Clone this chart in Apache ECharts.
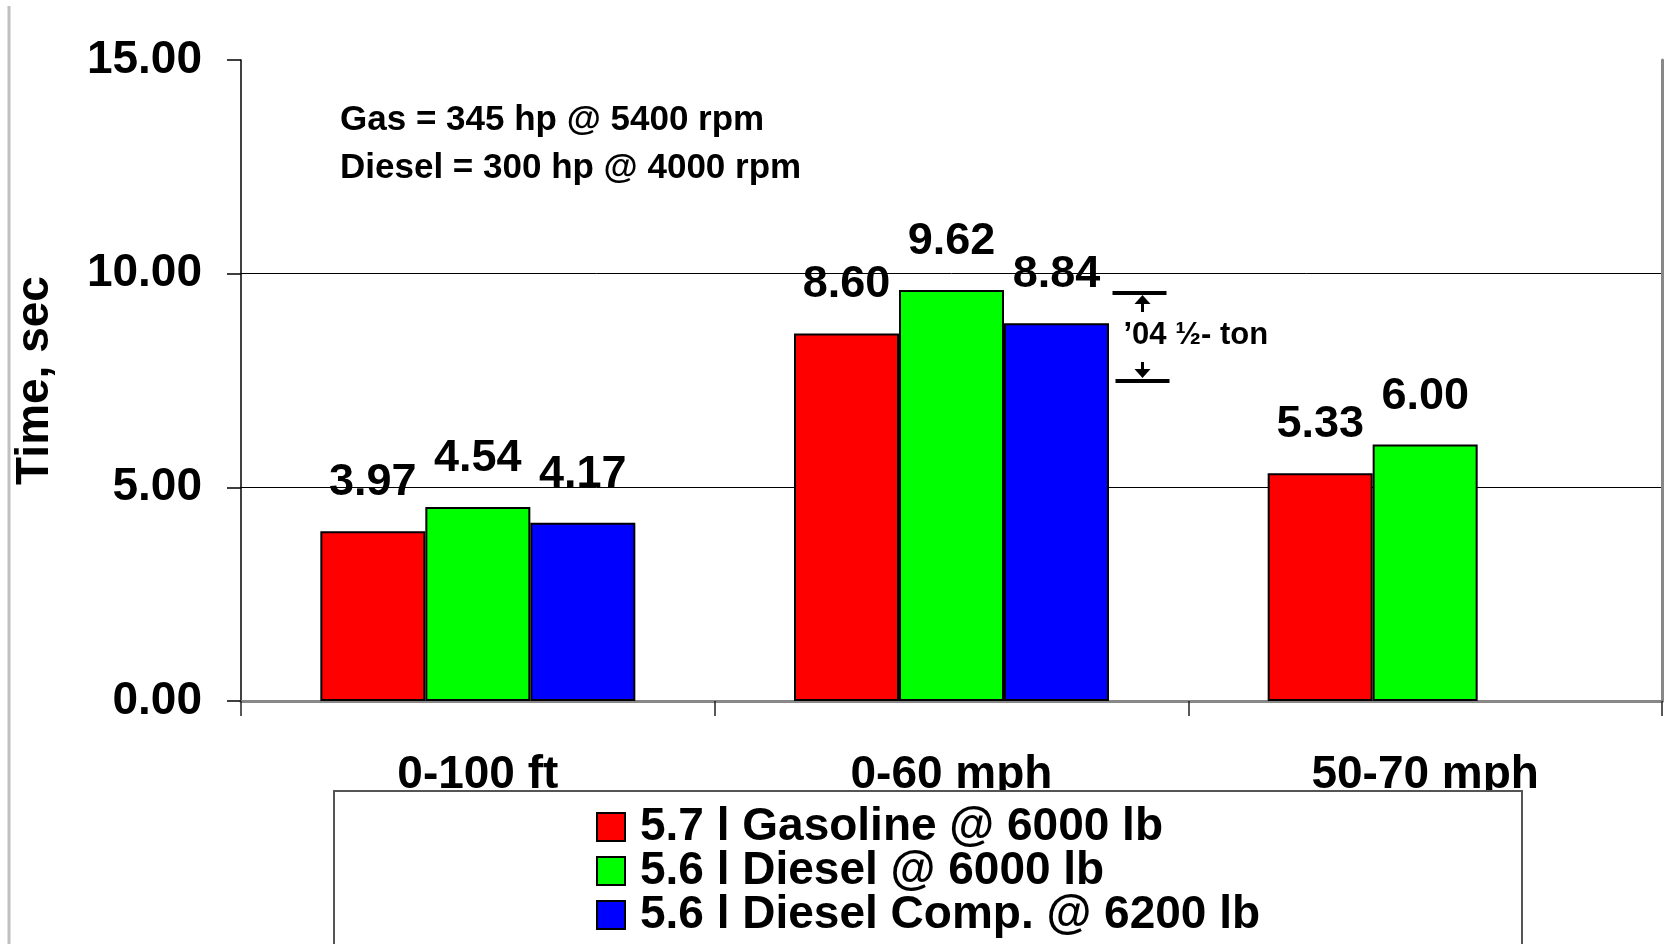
<!DOCTYPE html>
<html>
<head>
<meta charset="utf-8">
<script src="https://cdn.jsdelivr.net/npm/echarts@6.0.0/dist/echarts.min.js"></script>
<style>
  html, body { margin: 0; padding: 0; background: #fff; }
  #chart { width: 1667px; height: 944px; }
</style>
</head>
<body>
<div id="chart"></div>
<script>
// Acceleration times by test and powertrain
const categories = ['0-100 ft', '0-60 mph', '50-70 mph'];
const seriesNames = ['5.7 l Gasoline @ 6000 lb', '5.6 l Diesel @ 6000 lb', '5.6 l Diesel Comp. @ 6200 lb'];
const gasoline = [3.97, 8.60, 5.33];
const diesel = [4.54, 9.62, 6.00];
const dieselComp = [4.17, 8.84, null];
const seriesColors = ['#ff0000', '#00ff00', '#0000ff'];

// Value axis range
const yMin = 0;
const yMax = 15;
const yStep = 5;

// Engine notes and the half-ton bracket
const engineNotes = ['Gas = 345 hp @ 5400 rpm', 'Diesel = 300 hp @ 4000 rpm'];
const bracketLabel = '\u201904 \u00bd- ton';
const bracketRange = [9.54, 7.48];

const FONT = "'Liberation Sans', Arial, sans-serif";

const chart = echarts.init(document.getElementById('chart'), null, { renderer: 'canvas' });

function barSeries(name, data, color) {
  return {
    name: name,
    type: 'bar',
    data: data,
    xAxisIndex: 0,
    yAxisIndex: 0,
    barGap: '0%',
    barCategoryGap: '33.5%',
    itemStyle: { color: color, borderColor: '#000', borderWidth: 2 },
    label: {
      show: true,
      position: 'top',
      distance: 26,
      color: '#000',
      fontFamily: FONT,
      fontWeight: 'bold',
      fontSize: 45,
      formatter: function (p) { return p.value == null ? '' : Number(p.value).toFixed(2); }
    },
    emphasis: { disabled: true },
    animation: false
  };
}

const option = {
  animation: false,
  backgroundColor: '#ffffff',
  grid: {
    left: 241, right: 5, top: 60, bottom: 243,
    containLabel: false,
    outerBoundsMode: 'none'
  },
  legend: {
    data: seriesNames,
    orient: 'vertical',
    left: 596,
    top: 804,
    padding: 0,
    itemGap: -2,
    itemWidth: 28,
    itemHeight: 28,
    icon: 'rect',
    z: 20,
    selectedMode: false,
    textStyle: {
      fontFamily: FONT,
      fontWeight: 'bold',
      fontSize: 46,
      color: '#000',
      lineHeight: 44,
      padding: [0, 0, 0, 10]
    }
  },
  xAxis: [
    {
      type: 'category',
      data: categories,
      position: 'bottom',
      axisLine: { show: true, lineStyle: { color: '#222', width: 2 } },
      axisTick: { show: true, length: 15, lineStyle: { color: '#222', width: 1.5 } },
      axisLabel: {
        show: true,
        margin: 51,
        color: '#000',
        fontFamily: FONT,
        fontWeight: 'bold',
        fontSize: 46
      },
      splitLine: { show: false }
    },
    {
      // top frame edge
      type: 'category',
      data: categories,
      position: 'top',
      axisLine: { show: true, lineStyle: { color: '#888', width: 3 } },
      axisTick: { show: false },
      axisLabel: { show: false },
      splitLine: { show: false }
    }
  ],
  yAxis: [
    {
      type: 'value',
      min: yMin,
      max: yMax,
      interval: yStep,
      position: 'left',
      name: 'Time, sec',
      nameLocation: 'middle',
      nameGap: 183,
      nameRotate: 90,
      nameTextStyle: {
        fontFamily: FONT,
        fontWeight: 'bold',
        fontSize: 46,
        color: '#000'
      },
      axisLine: { show: true, lineStyle: { color: '#000', width: 1.5 } },
      axisTick: { show: true, inside: false, length: 14, lineStyle: { color: '#000', width: 1.5 } },
      axisLabel: {
        margin: 39,
        color: '#000',
        fontFamily: FONT,
        fontWeight: 'bold',
        fontSize: 46,
        formatter: function (v) { return v.toFixed(2); }
      },
      splitLine: { show: true, showMinLine: false, showMaxLine: false, lineStyle: { color: '#000', width: 1 } }
    },
    {
      // right frame edge
      type: 'value',
      min: yMin,
      max: yMax,
      interval: yStep,
      position: 'right',
      axisLine: { show: true, lineStyle: { color: '#888', width: 3 } },
      axisTick: { show: false },
      axisLabel: { show: false },
      splitLine: { show: false }
    }
  ],
  series: [
    barSeries(seriesNames[0], gasoline, seriesColors[0]),
    barSeries(seriesNames[1], diesel, seriesColors[1]),
    barSeries(seriesNames[2], dieselComp, seriesColors[2])
  ]
};

chart.setOption(option);

// Overlay: page rule, engine notes, half-ton bracket, legend box
const midCenter = chart.convertToPixel({ gridIndex: 0 }, [categories[1], 0])[0];
const yTopBar = Math.round(chart.convertToPixel({ gridIndex: 0 }, [categories[1], bracketRange[0]])[1]);
const yBotBar = Math.round(chart.convertToPixel({ gridIndex: 0 }, [categories[1], bracketRange[1]])[1]);
const bx = midCenter + 191;

const textStyleBase = { fill: '#000', fontFamily: FONT, fontWeight: 'bold' };

chart.setOption({
  graphic: [
    {
      type: 'line', z: 1, silent: true,
      shape: { x1: 9, y1: 6, x2: 9, y2: 944 },
      style: { stroke: '#c0c0c0', lineWidth: 3 }
    },
    {
      type: 'text', z: 5, silent: true,
      left: 340, top: 103,
      style: Object.assign({ text: engineNotes[0], fontSize: 35, verticalAlign: 'top' }, textStyleBase)
    },
    {
      type: 'text', z: 5, silent: true,
      left: 340, top: 151,
      style: Object.assign({ text: engineNotes[1], fontSize: 35, verticalAlign: 'top' }, textStyleBase)
    },
    // upper bar and arrow
    {
      type: 'rect', z: 5, silent: true,
      shape: { x: bx - 30, y: yTopBar - 2, width: 54, height: 4 },
      style: { fill: '#000' }
    },
    {
      type: 'polygon', z: 5, silent: true,
      shape: { points: [[bx, yTopBar + 2], [bx - 8, yTopBar + 11], [bx + 8, yTopBar + 11]] },
      style: { fill: '#000' }
    },
    {
      type: 'rect', z: 5, silent: true,
      shape: { x: bx - 1.5, y: yTopBar + 10, width: 3, height: 9 },
      style: { fill: '#000' }
    },
    // lower bar and arrow
    {
      type: 'rect', z: 5, silent: true,
      shape: { x: bx - 27, y: yBotBar - 2, width: 54, height: 4 },
      style: { fill: '#000' }
    },
    {
      type: 'polygon', z: 5, silent: true,
      shape: { points: [[bx, yBotBar - 3], [bx - 8, yBotBar - 12], [bx + 8, yBotBar - 12]] },
      style: { fill: '#000' }
    },
    {
      type: 'rect', z: 5, silent: true,
      shape: { x: bx - 1.5, y: yBotBar - 19, width: 3, height: 8 },
      style: { fill: '#000' }
    },
    {
      type: 'text', z: 5, silent: true,
      left: bx - 19, top: Math.round((yTopBar + yBotBar) / 2) - 17,
      style: Object.assign({ text: bracketLabel, fontSize: 31, verticalAlign: 'top' }, textStyleBase)
    },
    // legend frame drawn over the lower part of the category labels
    {
      type: 'rect', z: 15, silent: true,
      shape: { x: 334, y: 791, width: 1188, height: 200 },
      style: { fill: '#fff', stroke: '#555', lineWidth: 2 }
    }
  ]
});
</script>
</body>
</html>
